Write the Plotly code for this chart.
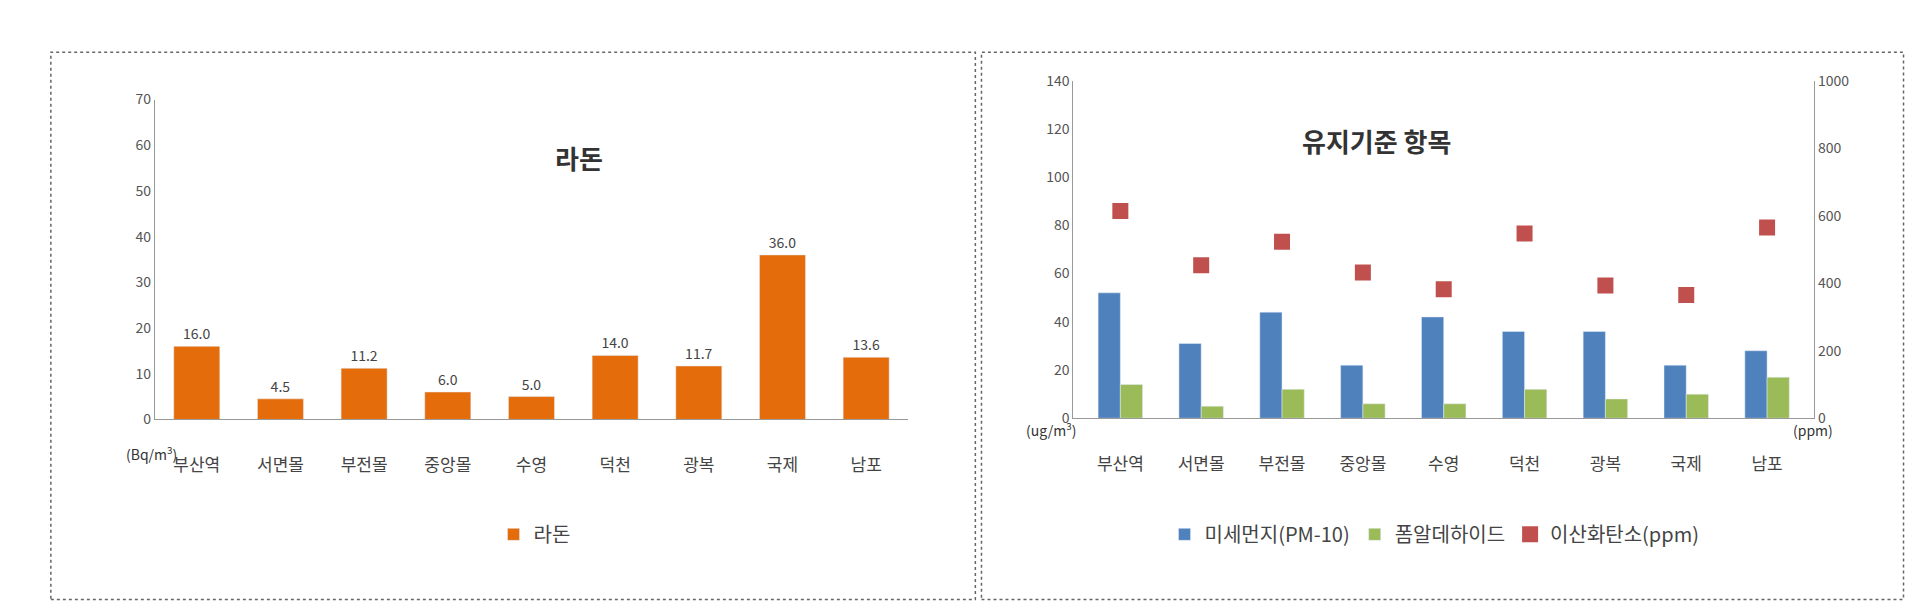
import plotly.graph_objects as go

cats = ["부산역", "서면몰", "부전몰", "중앙몰", "수영", "덕천", "광복", "국제", "남포"]
radon = [16.0, 4.5, 11.2, 6.0, 5.0, 14.0, 11.7, 36.0, 13.6]
pm10 = [52, 31, 44, 22, 42, 36, 36, 22, 28]
hcho = [14, 5, 12, 6, 6, 12, 8, 10, 17]
co2 = [614, 453, 523, 432, 382, 547, 393, 365, 565]

W, H = 1920, 616
S = 1920 / 1568  # reference measured at display scale
F = "Noto Sans CJK KR"
def px(x): return x * S / W
def py(y): return 1 - y * S / H

fig = go.Figure()
fig.add_trace(go.Bar(x=cats, y=radon, name="라돈", marker_color="#E46C0A",
                     text=[f"{v:.1f}" for v in radon], textposition="outside",
                     textfont=dict(size=14, color="#444"), cliponaxis=False,
                     xaxis="x", yaxis="y", legend="legend"))
fig.add_trace(go.Bar(x=cats, y=pm10, name="미세먼지(PM-10)", marker_color="#4F81BD",
                     xaxis="x2", yaxis="y2", legend="legend2", offsetgroup="a"))
fig.add_trace(go.Bar(x=cats, y=hcho, name="폼알데하이드", marker_color="#9BBB59",
                     xaxis="x2", yaxis="y2", legend="legend2", offsetgroup="b"))
fig.add_trace(go.Scatter(x=cats, y=co2, name="이산화탄소(ppm)", mode="markers",
                         marker=dict(symbol="square", size=16, color="#C0504D"),
                         xaxis="x2", yaxis="y3", legend="legend2"))

tick = dict(size=14, color="#555", family=F)
xt = dict(size=17, color="#444", family=F)
fig.update_layout(
    width=W, height=H, margin=dict(l=0, r=0, t=0, b=0),
    paper_bgcolor="white", plot_bgcolor="white",
    font=dict(family=F, color="#444"),
    bargap=0.45, bargroupgap=0.0, barmode="group",
    xaxis=dict(domain=[px(120), px(735)], showline=True, linecolor="#999",
               tickfont=xt, ticks="", ticklabelstandoff=30),
    yaxis=dict(domain=[py(338), py(68)], range=[0, 70], dtick=10, showgrid=False,
               showline=True, linecolor="#999", tickfont=tick, anchor="x"),
    xaxis2=dict(domain=[px(870), px(1475)], showline=True, linecolor="#999", anchor="y2",
                tickfont=xt, ticks="", ticklabelstandoff=30),
    yaxis2=dict(domain=[py(337), py(52)], range=[0, 140], dtick=20, showgrid=False,
                showline=True, linecolor="#999", tickfont=tick, anchor="x2"),
    yaxis3=dict(domain=[py(337), py(52)], range=[0, 1000], dtick=200, overlaying="y2",
                side="right", anchor="x2", showgrid=False, showline=True, linecolor="#999",
                tickfont=tick),
    legend=dict(x=px(430), y=py(435), xanchor="center", yanchor="middle", orientation="h",
                font=dict(size=20, family=F, color="#444")),
    legend2=dict(x=px(1165), y=py(435), xanchor="center", yanchor="middle", orientation="h",
                 font=dict(size=20, family=F, color="#444")),
    showlegend=True,
)

anns = [
    dict(x=px(445), y=py(100), text="<b>라돈</b>", size=26),
    dict(x=px(1180), y=py(85), text="<b>유지기준 항목</b>", size=26),
    dict(x=px(95), y=py(377), text="(Bq/m<sup>3</sup>)", size=14),
    dict(x=px(852), y=py(357), text="(ug/m<sup>3</sup>)", size=14),
    dict(x=px(1492), y=py(357), text="(ppm)", size=14),
]
for a in anns:
    fig.add_annotation(x=a["x"], y=a["y"], xref="paper", yref="paper", text=a["text"],
                       showarrow=False, font=dict(size=a["size"], family=F, color="#333"))

for x0, x1 in [(35, 790), (795, 1548)]:
    fig.add_shape(type="rect", xref="paper", yref="paper", x0=px(x0), x1=px(x1),
                  y0=py(490), y1=py(28), line=dict(color="#666", width=1.5, dash="dot"))

fig.write_html("out.html")
